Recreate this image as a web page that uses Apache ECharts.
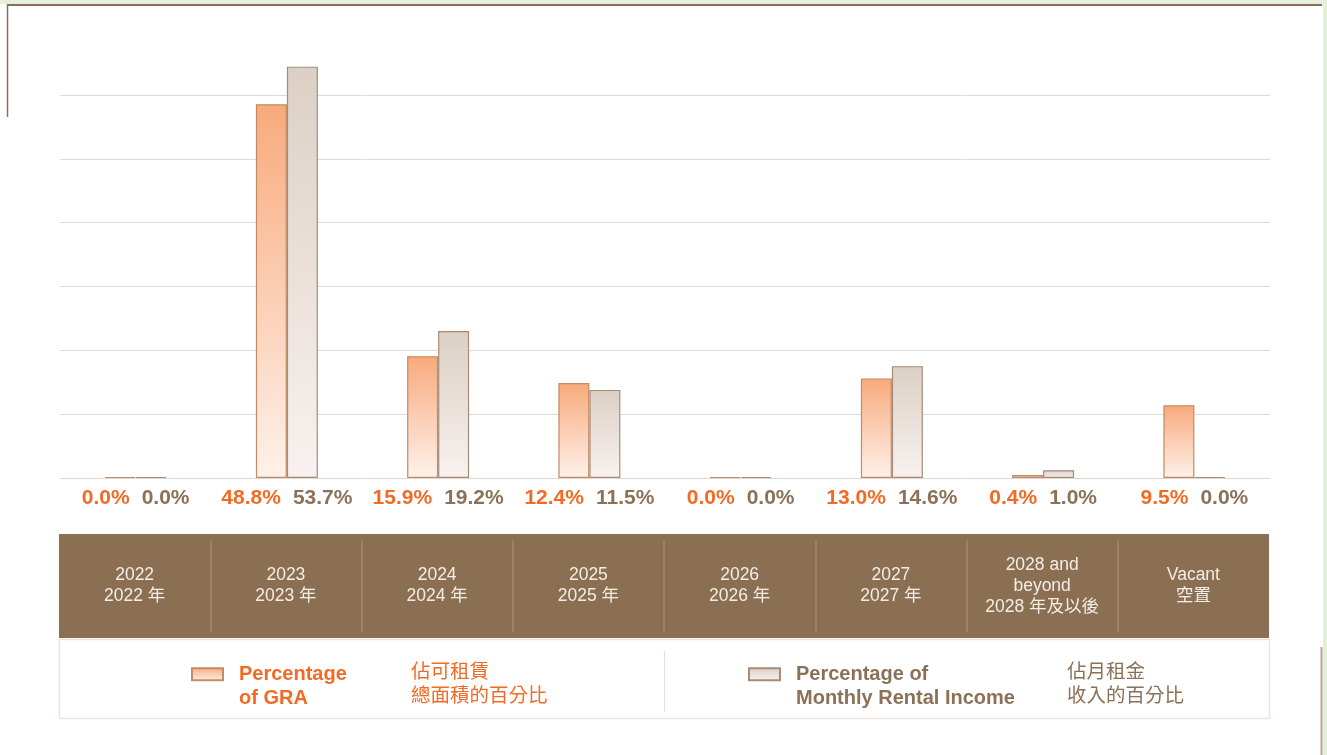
<!DOCTYPE html>
<html>
<head>
<meta charset="utf-8">
<title>Lease expiry profile</title>
<script src="https://cdn.jsdelivr.net/npm/echarts@6/dist/echarts.min.js"></script>
<style>
  html, body { margin: 0; padding: 0; background: #fff; }
  #chart { width: 1327px; height: 755px; }
</style>
</head>
<body>
<div id="chart"></div>
<script>
// data
const categories = ['2022\n2022 年', '2023\n2023 年', '2024\n2024 年', '2025\n2025 年', '2026\n2026 年', '2027\n2027 年', '2028 and\nbeyond\n2028 年及以後', 'Vacant\n空置'];
const graPct = [0.0, 48.8, 15.9, 12.4, 0.0, 13.0, 0.4, 9.5];
const incomePct = [0.0, 53.7, 19.2, 11.5, 0.0, 14.6, 1.0, 0.0];
const seriesNames = ['Percentage of GRA', 'Percentage of Monthly Rental Income'];
const legendEn = [['Percentage', 'of GRA'], ['Percentage of', 'Monthly Rental Income']];
const legendZh = [['佔可租賃', '總面積的百分比'], ['佔月租金', '收入的百分比']];

const FONT = '"Liberation Sans", Arial, Helvetica, "Noto Sans CJK TC", sans-serif';
const ORANGE = '#f26b24';
const BROWN = '#8b7157';

function grad(top, bottom) {
	return new echarts.graphic.LinearGradient(0, 0, 0, 1, [
		{offset: 0, color: top},
		{offset: 1, color: bottom}
	]);
}

function legendText(i) {
	return function () {
		return '{en|' + legendEn[i][0] + '}{zh|' + legendZh[i][0] + '}\n' +
			'{en|' + legendEn[i][1] + '}{zh|' + legendZh[i][1] + '}';
	};
}

function legendRich(color, enWidth) {
	return {
		en: {color: color, fontFamily: FONT, fontWeight: 'bold', fontSize: 20, lineHeight: 24, width: enWidth},
		zh: {color: color, fontFamily: '"Noto Sans CJK TC", sans-serif', fontSize: 19.5, lineHeight: 24, padding: [0, 0, 7, 0]}
	};
}

let chart = echarts.init(document.getElementById('chart'));
const option = {
	animation: false,
	backgroundColor: '#fff',
	textStyle: {fontFamily: FONT},
	graphic: [
		// page frame
		{type: 'rect', z: -5, shape: {x: 0, y: 0, width: 1327, height: 4}, style: {fill: '#e7f0dc'}},
		{type: 'rect', z: -5, shape: {x: 1323, y: 0, width: 4, height: 755}, style: {fill: '#e3efd6'}},
		{type: 'line', shape: {x1: 7, y1: 5, x2: 1322, y2: 5}, style: {stroke: '#8b7057', lineWidth: 2}},
		{type: 'line', shape: {x1: 7.5, y1: 4, x2: 7.5, y2: 117}, style: {stroke: '#8b7057', lineWidth: 1.5}},
		{type: 'line', shape: {x1: 1321.5, y1: 647, x2: 1321.5, y2: 755}, style: {stroke: '#b9a392', lineWidth: 2}},
		// category table background
		{type: 'rect', z: -1, shape: {x: 59, y: 534, width: 1210, height: 104}, style: {fill: '#8b6f52'}},
		// legend box
		{type: 'rect', z: -1, shape: {x: 59.5, y: 639.5, width: 1210, height: 79}, style: {fill: '#fff', stroke: '#f0e1dc', lineWidth: 1.5}},
		{type: 'line', shape: {x1: 664.5, y1: 651, x2: 664.5, y2: 712}, style: {stroke: '#eddcd6', lineWidth: 1}}
	],
	grid: [
		{left: 60, right: 57, top: 95, bottom: 277},
		{left: 59, right: 58, top: 540, height: 92}
	],
	legend: [
		{
			data: [seriesNames[0]],
			left: 186, top: 656,
			selectedMode: false,
			icon: 'rect', itemWidth: 31, itemHeight: 12,
			formatter: legendText(0),
			textStyle: {padding: [24, 0, 0, 11], rich: legendRich(ORANGE, 172)}
		},
		{
			data: [seriesNames[1]],
			left: 743, top: 656,
			selectedMode: false,
			icon: 'rect', itemWidth: 31, itemHeight: 12,
			formatter: legendText(1),
			textStyle: {padding: [24, 0, 0, 11], rich: legendRich(BROWN, 271)}
		}
	],
	xAxis: [
		{
			type: 'category', gridIndex: 0, data: categories,
			axisTick: {show: false},
			axisLine: {lineStyle: {color: '#e2d6ce', width: 1}},
			axisLabel: {
				margin: 8,
				interval: 0,
				formatter: function (v, i) {
					return '{a|' + graPct[i].toFixed(1) + '%}{b|' + incomePct[i].toFixed(1) + '%}';
				},
				rich: {
					a: {color: ORANGE, fontFamily: FONT, fontWeight: 'bold', fontSize: 21, lineHeight: 24},
					b: {color: BROWN, fontFamily: FONT, fontWeight: 'bold', fontSize: 21, lineHeight: 24, padding: [0, 0, 0, 12]}
				}
			}
		},
		{
			type: 'category', gridIndex: 1, data: categories,
			axisTick: {show: false},
			axisLine: {show: false},
			splitLine: {
				show: true,
				interval: 0,
				showMinLine: false,
				showMaxLine: false,
				lineStyle: {color: '#a3876d', width: 1.5}
			},
			axisLabel: {
				interval: 0,
				margin: -46,
				verticalAlign: 'middle',
				color: '#f4ede6',
				fontFamily: FONT,
				fontSize: 17.5,
				lineHeight: 21
			}
		}
	],
	yAxis: [
		{
			type: 'value', gridIndex: 0, min: 0, max: 50, interval: 50 / 6,
			axisLabel: {show: false},
			axisLine: {show: false},
			axisTick: {show: false},
			splitLine: {lineStyle: {color: '#e4d9d2', width: 1}}
		},
		{
			type: 'value', gridIndex: 1, min: 0, max: 1,
			show: false
		}
	],
	series: [
		{
			name: seriesNames[0],
			type: 'bar',
			xAxisIndex: 0, yAxisIndex: 0,
			data: graPct,
			barWidth: 31,
			barGap: '0%',
			barMinHeight: 1,
			clip: false,
			itemStyle: {color: grad('#f8aa7c', '#fef1ea'), borderColor: '#c38a63', borderWidth: 1.2}
		},
		{
			name: seriesNames[1],
			type: 'bar',
			xAxisIndex: 0, yAxisIndex: 0,
			data: incomePct,
			barWidth: 31,
			barGap: '0%',
			barMinHeight: 1,
			clip: false,
			itemStyle: {color: grad('#dcd0c5', '#f8f1ef'), borderColor: '#a58c79', borderWidth: 1.2}
		}
	]
};
chart.setOption(option);
window.addEventListener('resize', () => {
	chart.resize();
});
</script>
</body>
</html>
